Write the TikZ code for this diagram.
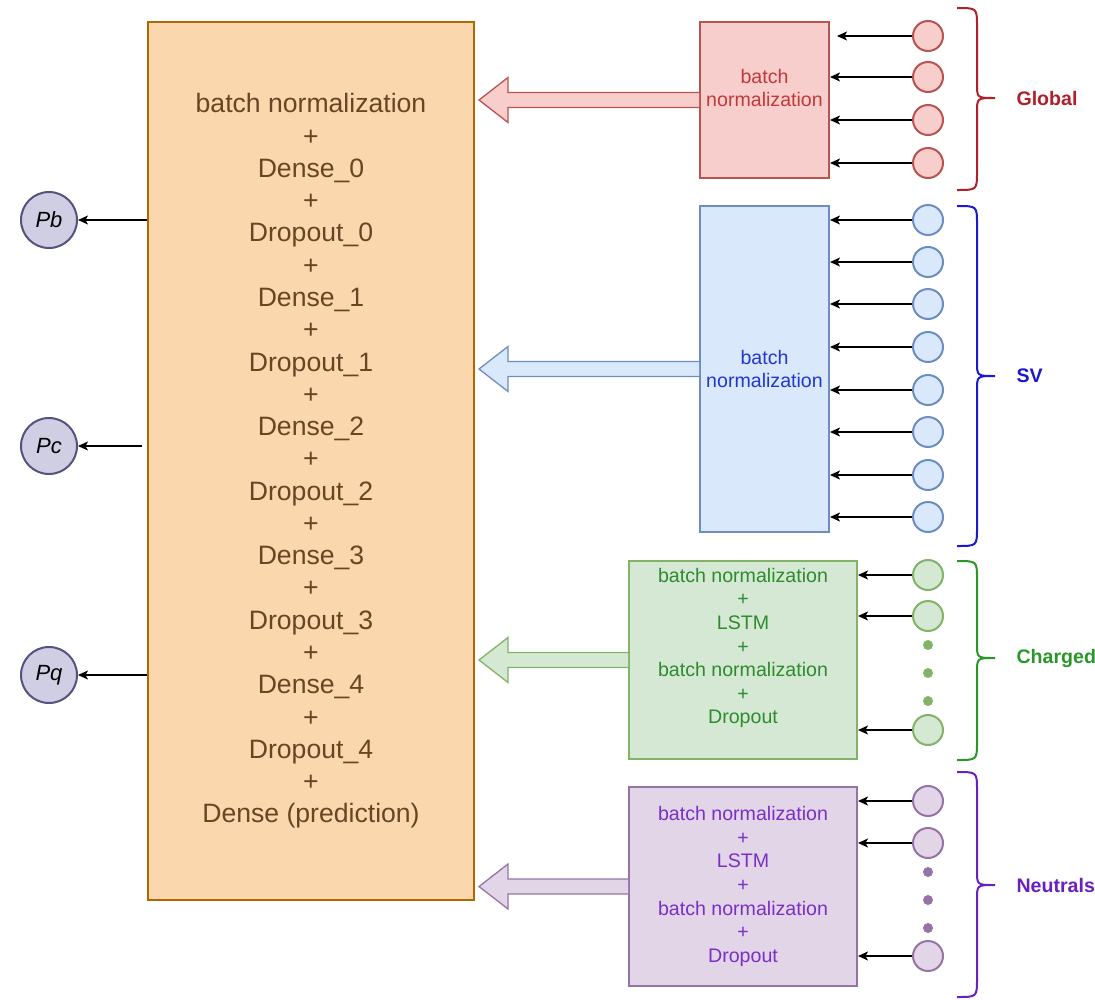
\documentclass[tikz,border=0pt]{standalone}
\usepackage{fontspec}
\setmainfont{Liberation Sans}
\usetikzlibrary{arrows.meta,calc}

\definecolor{orfill}{HTML}{FAD7AC}\definecolor{ordraw}{HTML}{B46504}\definecolor{ortext}{HTML}{6B4423}
\definecolor{rdfill}{HTML}{F8CECC}\definecolor{rddraw}{HTML}{B85450}\definecolor{rdtext}{HTML}{C0393B}\definecolor{rdlabel}{HTML}{B0202A}
\definecolor{blfill}{HTML}{DAE8FC}\definecolor{bldraw}{HTML}{6C8EBF}\definecolor{bltext}{HTML}{2038D0}\definecolor{bllabel}{HTML}{1A1ACC}
\definecolor{gnfill}{HTML}{D5E8D4}\definecolor{gndraw}{HTML}{82B366}\definecolor{gntext}{HTML}{2E8B2E}\definecolor{gnlabel}{HTML}{2A962A}
\definecolor{ppfill}{HTML}{E1D5E7}\definecolor{ppdraw}{HTML}{9673A6}\definecolor{pptext}{HTML}{7B2FC6}\definecolor{pplabel}{HTML}{6A1FBF}
\definecolor{lvfill}{HTML}{D0CEE2}\definecolor{lvdraw}{HTML}{56517E}

\tikzset{
  bigfont/.style={font=\fontsize{26.6}{32.27}\selectfont},
  smallfont/.style={font=\fontsize{19.6}{23.6}\selectfont},
  layerbox/.style={draw=#1draw, fill=#1fill, line width=2pt, inner sep=0pt},
  boxtext/.style={smallfont, align=center, text=#1text},
  inputnode/.style={circle, draw=#1draw, fill=#1fill, line width=2pt, minimum size=30pt, inner sep=0pt},
  outnode/.style={circle, draw=lvdraw, fill=lvfill, line width=2pt, minimum size=56pt, inner sep=0pt,
                  font=\fontsize{22}{26}\selectfont\itshape},
  conn/.style={draw=black, line width=1.3pt, -{Stealth[length=10pt,width=9pt,inset=2.5pt]}},
  dotmark/.style={circle, fill=#1draw, minimum size=10pt, inner sep=0pt},
  grouplabel/.style={anchor=west, smallfont, font=\fontsize{19.6}{23.6}\selectfont\bfseries, text=#1label},
  bracestyle/.style={draw=#1label, line width=2pt},
}

% fat block arrow from a layer box into the dense stack
\newcommand{\blockarrow}[2]{%
  \coordinate (ba0) at (#2.west);
  \coordinate (tip) at ($(big.east |- #2.west)+(4,0)$);
  \filldraw[draw=#1draw, fill=#1fill, line width=1.3pt, line join=miter]
    ($(ba0)+(0,-7.5)$) -- ($(tip)+(29,-7.5)$) -- ($(tip)+(29,-22.5)$) -- (tip)
    -- ($(tip)+(29,22.5)$) -- ($(tip)+(29,7.5)$) -- ($(ba0)+(0,7.5)$);
}

% curly brace that groups one column of inputs
\newcommand{\groupbrace}[4]{%
  \draw[bracestyle=#1] (957,#2) .. controls (977,#2) .. (977,#2+18) -- (977,#4-14)
    .. controls (977,#4) .. (995,#4) .. controls (977,#4) .. (977,#4+14)
    -- (977,#3-18) .. controls (977,#3) .. (957,#3);
}

\begin{document}
\begin{tikzpicture}[x=1pt, y=-1pt]
\useasboundingbox (0,0) rectangle (1095,999);

% dense stack
\node[layerbox=or, minimum width=326pt, minimum height=878pt] (big) at (311,461) {};
\node[bigfont, align=center, text=ortext] (bigtxt) at (311,461) {batch normalization\\+\\Dense\_0\\+\\Dropout\_0\\+\\Dense\_1\\+\\Dropout\_1\\+\\Dense\_2\\+\\Dropout\_2\\+\\Dense\_3\\+\\Dropout\_3\\+\\Dense\_4\\+\\Dropout\_4\\+\\Dense (prediction)};

% outputs
\node[outnode] (pb) at (49,220) {Pb};
\node[outnode] (pc) at (49,446) {Pc};
\node[outnode] (pq) at (49,675) {Pq};
\draw[conn] (big.west |- pb) -- (pb);
\draw[conn] ($(big.west |- pc)+(-5,0)$) -- (pc);
\draw[conn] (big.west |- pq) -- (pq);

% global branch
\node[layerbox=rd, minimum width=129pt, minimum height=156pt] (pink) at (764.5,100) {};
\node[boxtext=rd] (pinktxt) at (764.5,88) {batch\\normalization};
\foreach \i/\y in {1/36,2/77,3/120,4/163}{
  \node[inputnode=rd] (g\i) at (928,\y) {};
}
\draw[conn] (g1) -- ($(g1 -| pink.east)+(7,0)$);
\foreach \i in {2,3,4}{ \draw[conn] (g\i) -- (g\i -| pink.east); }
\blockarrow{rd}{pink}
\groupbrace{rd}{8}{190}{98}
\node[grouplabel=rd] (glab) at (1013,98) {Global};

% secondary vertex branch
\node[layerbox=bl, minimum width=129pt, minimum height=326pt] (blue) at (764.5,369) {};
\node[boxtext=bl] (bluetxt) at (764.5,369) {batch\\normalization};
\foreach \i/\y in {1/220,2/262,3/304,4/347,5/390,6/432,7/475,8/517}{
  \node[inputnode=bl] (s\i) at (928,\y) {};
  \draw[conn] (s\i) -- (s\i -| blue.east);
}
\blockarrow{bl}{blue}
\groupbrace{bl}{206}{546}{376}
\node[grouplabel=bl] (slab) at (1013,376) {SV};

% charged particle branch
\node[layerbox=gn, minimum width=228pt, minimum height=198pt] (green) at (743,660) {};
\node[boxtext=gn] (greentxt) at (743,648) {batch normalization\\+\\LSTM\\+\\batch normalization\\+\\Dropout};
\foreach \i/\y in {1/575,2/616,3/730}{
  \node[inputnode=gn] (c\i) at (928,\y) {};
  \draw[conn] (c\i) -- (c\i -| green.east);
}
\foreach \y in {645,673,701}{ \node[dotmark=gn] at (928,\y) {}; }
\blockarrow{gn}{green}
\groupbrace{gn}{561}{760}{658}
\node[grouplabel=gn] (clab) at (1013,658) {Charged};

% neutral particle branch
\node[layerbox=pp, minimum width=228pt, minimum height=199pt] (purple) at (743,886.5) {};
\node[boxtext=pp] (purpletxt) at (743,886.5) {batch normalization\\+\\LSTM\\+\\batch normalization\\+\\Dropout};
\foreach \i/\y in {1/801,2/843,3/956}{
  \node[inputnode=pp] (n\i) at (928,\y) {};
  \draw[conn] (n\i) -- (n\i -| purple.east);
}
\foreach \y in {872,900,928}{ \node[dotmark=pp] at (928,\y) {}; }
\blockarrow{pp}{purple}
\groupbrace{pp}{772}{997}{885}
\node[grouplabel=pp] (nlab) at (1013,885) {Neutrals};
\end{tikzpicture}
\end{document}
